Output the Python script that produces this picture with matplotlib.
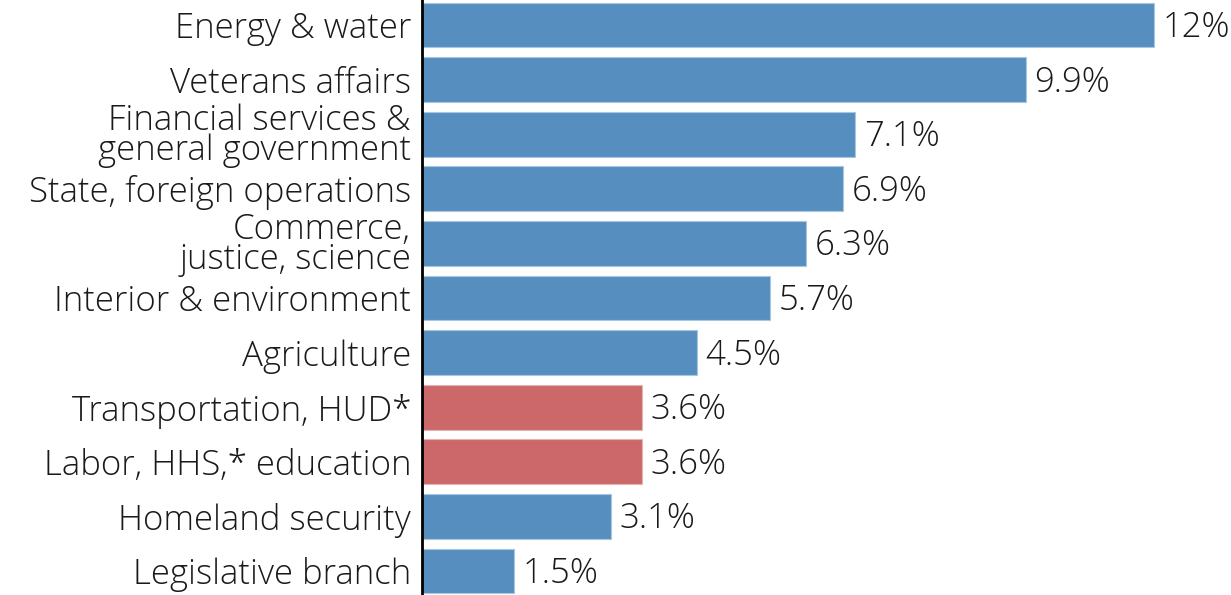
import matplotlib
matplotlib.use("Agg")
import matplotlib.pyplot as plt

categories = ["Energy & water", "Veterans affairs", "Financial services &\ngeneral government",
              "State, foreign operations", "Commerce,\njustice, science", "Interior & environment",
              "Agriculture", "Transportation, HUD*", "Labor, HHS,* education",
              "Homeland security", "Legislative branch"]
values = [12, 9.9, 7.1, 6.9, 6.3, 5.7, 4.5, 3.6, 3.6, 3.1, 1.5]
value_labels = ["12%", "9.9%", "7.1%", "6.9%", "6.3%", "5.7%", "4.5%", "3.6%", "3.6%", "3.1%", "1.5%"]
highlight = [False, False, False, False, False, False, False, True, True, False, False]

blue = "#568fbf"
red = "#cc6869"
colors = [red if h else blue for h in highlight]

plt.rcParams["font.family"] = ["Open Sans", "DejaVu Sans"]
plt.rcParams["font.weight"] = "light"

fig = plt.figure(figsize=(12.31, 5.95), dpi=100)
ax = fig.add_axes([0.343, 0, 0.657, 1])

y = list(range(len(categories)))
ax.barh(y, values, height=0.82, color=colors, linewidth=0.8)
for bar, c in zip(ax.patches, colors):
    bar.set_edgecolor("#e6b3b3" if c == red else "#a9c6e0")

for yi, v, lab in zip(y, values, value_labels):
    ax.text(v + 0.14, yi + 0.05, lab, va="center", ha="left", fontsize=25, color="#1a1a1a")

ax.set_yticks(y)
ax.set_yticklabels(categories, fontsize=25, color="#1a1a1a", linespacing=0.82)
ax.tick_params(axis="y", length=0, pad=8)
ax.set_xticks([])
ax.set_xlim(0, 13.26)
ax.set_ylim(10.44, -0.46)

for s in ["top", "right", "bottom"]:
    ax.spines[s].set_visible(False)
ax.spines["left"].set_linewidth(2)
ax.spines["left"].set_color("black")

fig.savefig("out.png", dpi=100)
